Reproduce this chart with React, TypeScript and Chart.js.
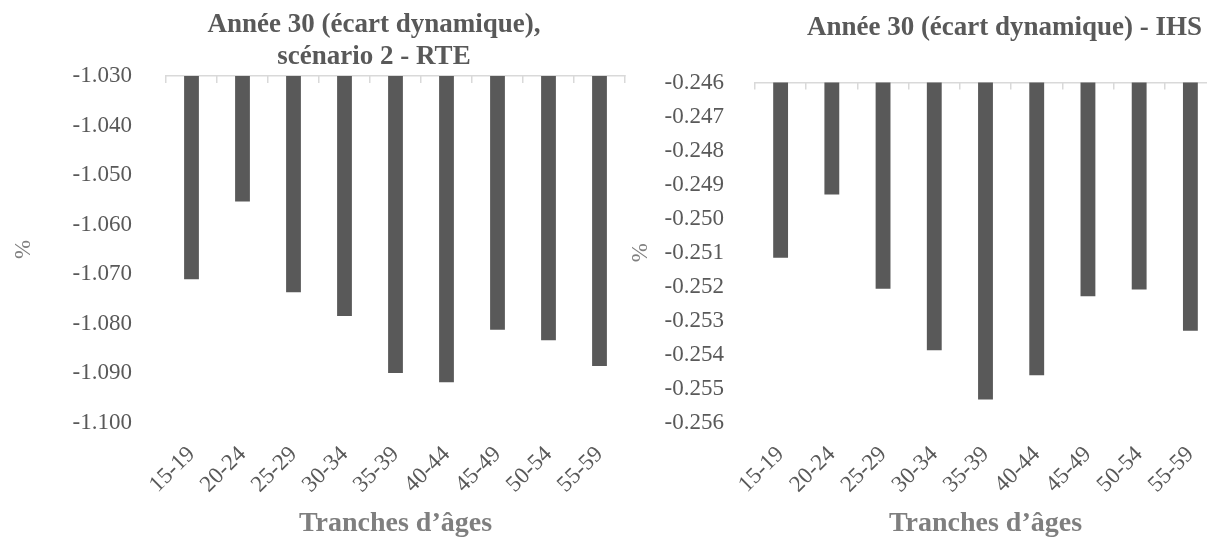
import React, { useEffect, useRef } from 'react';
import { Chart, registerables } from 'chart.js';

Chart.register(...registerables);

// ---- Data ----
const ageGroups = ['15-19', '20-24', '25-29', '30-34', '35-39', '40-44', '45-49', '50-54', '55-59'];
const rteValues = [-1.071, -1.0553, -1.0736, -1.0784, -1.0899, -1.0918, -1.0812, -1.0833, -1.0885];
const ihsValues = [-0.25115, -0.24929, -0.25206, -0.25386, -0.25531, -0.2546, -0.25228, -0.25208, -0.25329];

const rteTitle = ['Année 30 (écart dynamique),', 'scénario 2 - RTE'];
const ihsTitle = 'Année 30 (écart dynamique) - IHS';
const xAxisTitle = 'Tranches d’âges';
const yAxisTitle = '%';

const rteMin = -1.1;
const rteMax = -1.03;
const rteStep = 0.01;
const ihsMin = -0.256;
const ihsMax = -0.246;
const ihsStep = 0.001;

// ---- Styles ----
const FONT = "'Liberation Serif', 'Times New Roman', serif";
const BAR_COLOR = '#595959';
const TEXT_COLOR = '#595959';
const AXIS_TITLE_COLOR = '#7f7f7f';
const LINE_COLOR = '#d9d9d9';

type PanelGeom = {
  width: number;
  yWidth: number;
  rightWidth: number;
  titlePadTop: number;
  titlePadBottom: number;
  tickPad: number;
  yTitlePad: number;
};

function makeConfig(
  title: string | string[],
  values: number[],
  min: number,
  max: number,
  step: number,
  g: PanelGeom
): any {
  return {
    type: 'bar',
    data: {
      labels: ageGroups,
      datasets: [
        {
          data: values,
          backgroundColor: BAR_COLOR,
          borderWidth: 0,
          barPercentage: 0.29,
          categoryPercentage: 1,
          xAxisID: 'x',
          yAxisID: 'y',
        },
      ],
    },
    options: {
      responsive: false,
      animation: false,
      layout: { padding: 0 },
      plugins: {
        legend: { display: false },
        tooltip: { enabled: false },
        title: {
          display: true,
          text: title,
          color: TEXT_COLOR,
          font: { family: FONT, size: 27, weight: 'bold', lineHeight: 1.185 },
          padding: { top: g.titlePadTop, bottom: g.titlePadBottom },
        },
      },
      scales: {
        x: {
          type: 'category',
          position: 'bottom',
          offset: true,
          grid: { display: false },
          border: { display: false },
          ticks: {
            autoSkip: false,
            minRotation: 45,
            maxRotation: 45,
            padding: 10,
            color: TEXT_COLOR,
            font: { family: FONT, size: 23 },
          },
          title: {
            display: true,
            text: xAxisTitle,
            color: AXIS_TITLE_COLOR,
            font: { family: FONT, size: 28, weight: 'bold' },
            padding: { top: 0, bottom: 0 },
          },
          afterFit: (s: any) => {
            s.height = 118;
          },
        },
        x2: {
          type: 'category',
          position: 'top',
          offset: true,
          grid: {
            offset: true,
            drawOnChartArea: false,
            drawTicks: true,
            tickLength: -7,
            color: LINE_COLOR,
            lineWidth: 1.5,
          },
          border: { display: true, color: LINE_COLOR, width: 1.5 },
          ticks: { display: false },
          afterFit: (s: any) => {
            s.height = 0;
          },
        },
        y: {
          type: 'linear',
          position: 'left',
          min,
          max,
          beginAtZero: false,
          grid: { display: false },
          border: { display: false },
          ticks: {
            stepSize: step,
            padding: g.tickPad,
            color: TEXT_COLOR,
            font: { family: FONT, size: 23 },
            callback: (v: any) => Number(v).toFixed(3),
          },
          title: {
            display: true,
            text: yAxisTitle,
            color: AXIS_TITLE_COLOR,
            font: { family: FONT, size: 23 },
            padding: { top: g.yTitlePad, bottom: 0 },
          },
          afterFit: (s: any) => {
            s.width = g.yWidth;
          },
        },
        yR: {
          type: 'linear',
          position: 'right',
          display: true,
          grid: { display: false },
          border: { display: false },
          ticks: { display: false },
          afterFit: (s: any) => {
            s.width = g.rightWidth;
          },
        },
      },
    },
  };
}

function Panel(props: { left: number; geom: PanelGeom; config: any }) {
  const ref = useRef<HTMLCanvasElement | null>(null);
  useEffect(() => {
    if (!ref.current) return;
    const chart = new Chart(ref.current, props.config);
    return () => chart.destroy();
  }, []);
  return (
    <canvas
      ref={ref}
      width={props.geom.width}
      height={541}
      style={{ position: 'absolute', left: props.left, top: 0, width: props.geom.width, height: 541 }}
    />
  );
}

const leftGeom: PanelGeom = {
  width: 748,
  yWidth: 166,
  rightWidth: 123,
  titlePadTop: 9,
  titlePadBottom: 3,
  tickPad: 26,
  yTitlePad: 10,
};

const rightGeom: PanelGeom = {
  width: 769,
  yWidth: 135,
  rightWidth: 173,
  titlePadTop: 12,
  titlePadBottom: 38.5,
  tickPad: 23,
  yTitlePad: 7,
};

export default function App() {
  const leftConfig = makeConfig(rteTitle, rteValues, rteMin, rteMax, rteStep, leftGeom);
  const rightConfig = makeConfig(ihsTitle, ihsValues, ihsMin, ihsMax, ihsStep, rightGeom);
  return (
    <div
      style={{
        position: 'fixed',
        left: 0,
        top: 0,
        width: 1207,
        height: 541,
        overflow: 'hidden',
        background: '#ffffff',
      }}
    >
      <Panel left={0} geom={leftGeom} config={leftConfig} />
      <Panel left={620} geom={rightGeom} config={rightConfig} />
    </div>
  );
}
